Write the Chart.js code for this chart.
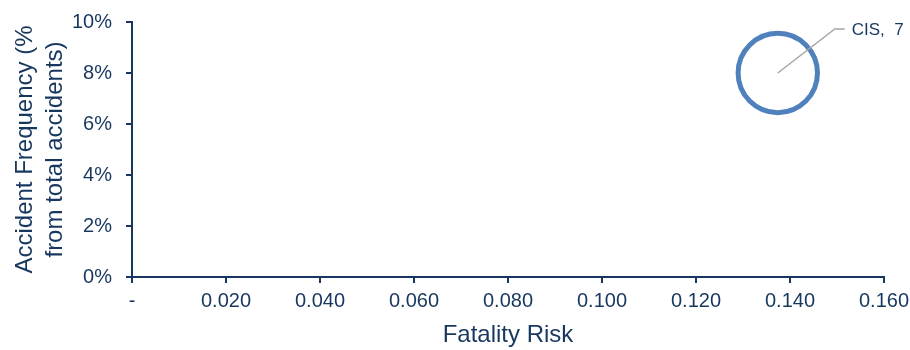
<!DOCTYPE html>
<html>
<head>
<meta charset="utf-8">
<script src="https://cdn.jsdelivr.net/npm/chart.js@4/dist/chart.umd.min.js"></script>
<style>
  html, body { margin: 0; padding: 0; background: #fff; }
  #wrap { width: 910px; height: 350px; }
</style>
</head>
<body>
<div id="wrap"><canvas id="chart" width="910" height="350"></canvas></div>
<script>
const regions = ['CIS'];
const fatalityRisk = [0.1374];
const accidentFreq = [8.0];
const bubbleSize = [7];
const yTicks = [0, 2, 4, 6, 8, 10];

const navy = '#17375e';
const font = 'Liberation Sans, Arial, sans-serif';

// leader line + "CIS, 7" label next to the bubble
const leaderLabels = {
  id: 'leaderLabels',
  afterDatasetsDraw(chart) {
    const c = chart.ctx;
    const xs = chart.scales.x, ys = chart.scales.y;
    regions.forEach((name, i) => {
      const px = xs.getPixelForValue(fatalityRisk[i]);
      const py = ys.getPixelForValue(accidentFreq[i]);
      const ex = px + 57, ey = py - 44;
      c.save();
      c.strokeStyle = '#a6a6a6';
      c.lineWidth = 1.5;
      c.beginPath();
      c.moveTo(px, py);
      c.lineTo(ex, ey);
      c.lineTo(ex + 10, ey);
      c.stroke();
      c.fillStyle = navy;
      c.font = '17px ' + font;
      c.textBaseline = 'middle';
      c.fillText(name + ',  ' + bubbleSize[i], ex + 17, ey + 1);
      c.restore();
    });
  }
};

new Chart(document.getElementById('chart'), {
  type: 'bubble',
  data: {
    datasets: [{
      label: 'Regions',
      data: regions.map((r, i) => ({ x: fatalityRisk[i], y: accidentFreq[i], r: 15 * Math.sqrt(bubbleSize[i]) })),
      backgroundColor: 'rgba(0,0,0,0)',
      borderColor: '#4f81bd',
      borderWidth: 5,
      clip: false
    }]
  },
  options: {
    responsive: false,
    animation: false,
    layout: { autoPadding: false, padding: { top: 22, right: 26, left: 10, bottom: 0 } },
    plugins: { legend: { display: false }, tooltip: { enabled: false } },
    scales: {
      x: {
        type: 'linear',
        min: 0, max: 0.16,
        ticks: {
          stepSize: 0.02,
          color: navy,
          font: { size: 20, family: font },
          padding: 6,
          maxRotation: 0,
          callback: v => Math.abs(v) < 1e-9 ? '-' : v.toFixed(3)
        },
        grid: { drawOnChartArea: false, drawTicks: true, tickLength: 6, color: navy, lineWidth: 2 },
        border: { color: navy, width: 2 },
        title: { display: true, text: 'Fatality Risk', color: navy, font: { size: 24, family: font }, padding: { top: 22, bottom: 0 } },
        afterFit: s => { s.height = 73; s.paddingLeft = 0; s.paddingRight = 0; }
      },
      y: {
        min: 0, max: 10,
        afterBuildTicks: s => { s.ticks = yTicks.map(v => ({ value: v })); },
        ticks: {
          color: navy,
          font: { size: 20, family: font },
          padding: 14,
          callback: v => v + '%'
        },
        grid: { drawOnChartArea: false, drawTicks: true, tickLength: 6, color: navy, lineWidth: 2 },
        border: { color: navy, width: 2 },
        title: { display: true, text: ['Accident Frequency (%', 'from total accidents)'], color: navy, font: { size: 24, family: font, lineHeight: 1.25 }, padding: 0 },
        afterFit: s => { s.width = 122; s.paddingTop = 0; s.paddingBottom = 0; }
      }
    }
  },
  plugins: [leaderLabels]
});
</script>
</body>
</html>
